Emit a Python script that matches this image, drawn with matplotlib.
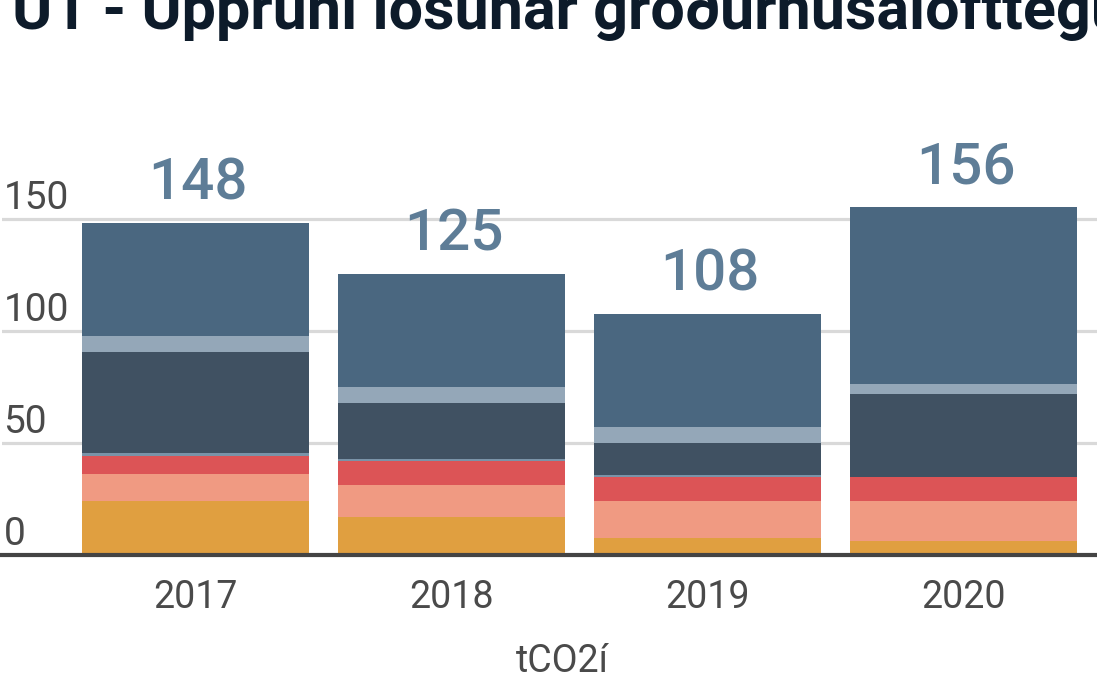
import matplotlib
matplotlib.use("Agg")
import matplotlib.pyplot as plt
import numpy as np

plt.rcParams['font.family'] = ['Roboto', 'DejaVu Sans']

years = ['2017', '2018', '2019', '2020']
# stacked from the bottom up, tCO2í
orange = [24.1, 17.0, 7.6, 6.3]
salmon = [12.1, 14.2, 16.5, 17.8]
red = [8.0, 10.8, 10.7, 10.7]
steel = [1.3, 0.9, 0.9, 0.0]
dark = [45.1, 25.0, 14.3, 37.1]
light = [7.2, 7.1, 7.1, 4.4]
blue = [50.4, 50.4, 50.5, 79.1]
totals = [148, 125, 108, 156]
yticks = [0, 50, 100, 150]

series = [orange, salmon, red, steel, dark, light, blue]
colors = ['#e09f40', '#f09a82', '#dc5456', '#7a93a8', '#405162', '#94a7b8', '#4a6780']

fig = plt.figure(figsize=(10.97, 6.80), dpi=100)
W, H = 1097, 680
ax = fig.add_axes([2 / W, 1 - 555 / H, 1 - 2 / W, (555 - 196.6) / H])

x = np.arange(len(years))
bottom = np.zeros(len(years))
for vals, c in zip(series, colors):
    ax.bar(x, vals, width=0.887, bottom=bottom, color=c, zorder=3, linewidth=0)
    bottom += np.array(vals)

ax.set_xlim(-0.756, 3.521)
ax.set_ylim(0, 160)

for t in yticks[1:]:
    ax.axhline(t, color='#d9d9d9', lw=2.3, zorder=1)

for t in yticks:
    ax.annotate(str(t), xy=(0, t), xycoords=('axes fraction', 'data'),
                xytext=(1, 7), textcoords='offset points', ha='left', va='baseline',
                fontsize=28, color='#4a4a4a', annotation_clip=False)

for xi, top, lab in zip(x, bottom, totals):
    ax.annotate(str(lab), xy=(xi, top), xytext=(2, 17), textcoords='offset points',
                ha='center', va='baseline', fontsize=42, fontweight='medium',
                color='#5e7d97', annotation_clip=False)

ax.set_xticks(x)
ax.set_xticklabels(years, fontsize=27, color='#4a4a4a')
ax.tick_params(axis='x', length=0, pad=17)
ax.set_yticks([])

for s in ['top', 'right', 'left']:
    ax.spines[s].set_visible(False)
ax.spines['bottom'].set_color('#444444')
ax.spines['bottom'].set_linewidth(3)
ax.spines['bottom'].set_zorder(4)

fig.text(562 / W, 1 - 661 / H, 'tCO2í', ha='center', va='center', fontsize=27, color='#4a4a4a')
fig.text(12 / W, 1 - 29 / H, 'U1 - Uppruni losunar gróðurhúsalofttegunda', ha='left',
         va='baseline', fontsize=44, fontweight='bold', color='#0d1b2a')

fig.savefig('out.png', dpi=100)
